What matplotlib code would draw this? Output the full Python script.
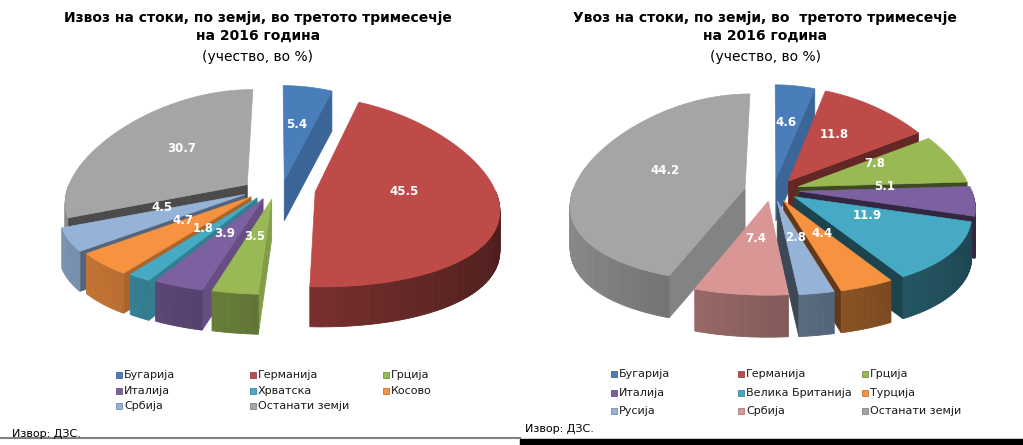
import numpy as np
import matplotlib
matplotlib.use('Agg')
import matplotlib.pyplot as plt
from matplotlib.patches import Polygon
from matplotlib.colors import to_rgb

# --- data -------------------------------------------------------------
export_labels = ['Бугарија', 'Германија', 'Грција', 'Италија', 'Хрватска',
                 'Косово', 'Србија', 'Останати земји']
export_values = [5.4, 45.5, 3.5, 3.9, 1.8, 4.7, 4.5, 30.7]
export_colors = ['#4A7EBB', '#BE4B48', '#98B954', '#7D60A0', '#46AAC5',
                 '#F69240', '#95B3D7', '#A5A5A5']

import_labels = ['Бугарија', 'Германија', 'Грција', 'Италија', 'Велика Британија',
                 'Турција', 'Русија', 'Србија', 'Останати земји']
import_values = [4.6, 11.8, 7.8, 5.1, 11.9, 4.4, 2.8, 7.4, 44.2]
import_colors = ['#4A7EBB', '#BE4B48', '#98B954', '#7D60A0', '#46AAC5',
                 '#F69240', '#95B3D7', '#D99694', '#A5A5A5']

title_export = 'Извоз на стоки, по земји, во третото тримесечје\nна 2016 година'
title_import = 'Увоз на стоки, по земји, во  третото тримесечје\nна 2016 година'
subtitle = '(учество, во %)'
source = 'Извор: ДЗС.'


def shade(col, f):
    r, g, b = to_rgb(col)
    return (r * f, g * f, b * f)


def pie3d(ax, values, colors, cx, cy, rx, ry, depth, ex=0.2, ey=0.1, persp=0.18, lab_r=0.5):
    """fake 3d exploded pie, slices clockwise from 12 o'clock"""
    vals = np.array(values, dtype=float)
    edges = np.concatenate([[0], np.cumsum(vals) / vals.sum() * 360])

    def proj(u, v, down=0.0):
        return (cx + rx * u * (1 - persp * v), cy - ry * v + down)

    faces = []   # (depth key, polygon pts, color)
    tops = []
    for i, col in enumerate(colors):
        a0, a1 = edges[i], edges[i + 1]
        mid = np.radians((a0 + a1) / 2)
        ou, ov = ex * np.sin(mid), ey * np.cos(mid)
        th = np.radians(np.linspace(a0, a1, max(int(a1 - a0), 2) + 1))
        us, vs = ou + np.sin(th), ov + np.cos(th)

        top = [proj(ou, ov)] + [proj(u, v) for u, v in zip(us, vs)]
        tops.append((top, col))

        # outer wall, front half only
        for k in range(len(th) - 1):
            tm = (th[k] + th[k + 1]) / 2
            if np.cos(tm) >= 0:
                continue
            f = 0.62 - 0.22 * np.sin(tm)
            quad = [proj(us[k], vs[k]), proj(us[k + 1], vs[k + 1]),
                    proj(us[k + 1], vs[k + 1], depth), proj(us[k], vs[k], depth)]
            faces.append((vs[k] / 2 + vs[k + 1] / 2, quad, shade(col, f)))

        # radial cut faces
        for ang, sgn in ((a0, -1), (a1, 1)):
            t = np.radians(ang)
            if sgn * np.sin(t) <= 0:
                continue
            nx = sgn * np.cos(t)
            f = 0.4 + 0.45 * max(nx, 0) ** 2
            eu, ev = ou + np.sin(t), ov + np.cos(t)
            quad = [proj(ou, ov), proj(eu, ev), proj(eu, ev, depth), proj(ou, ov, depth)]
            faces.append((ov + 0.5 * np.cos(t), quad, shade(col, f)))

        lu, lv = ou + lab_r * np.sin(mid), ov + lab_r * np.cos(mid) + 0.1
        ax.text(*proj(lu, lv), f'{values[i]:.1f}', color='white', fontsize=8.5,
                fontweight='bold', ha='center', va='center', zorder=10)

    for _, pts, c in sorted(faces, key=lambda f: -f[0]):
        ax.add_patch(Polygon(pts, closed=True, facecolor=c, edgecolor=c, lw=0.6, zorder=2))
    for pts, c in tops:
        ax.add_patch(Polygon(pts, closed=True, facecolor=c, edgecolor=c, lw=0.5, zorder=3))


def legend_block(ax, labels, colors, col_x, row_y):
    for i, (lab, col) in enumerate(zip(labels, colors)):
        x, y = col_x[i % 3], row_y[i // 3]
        ax.scatter(x + 3.5, y, marker='s', s=22, color=col, edgecolors=shade(col, 0.7),
                   linewidths=0.5, zorder=5)
        ax.text(x + 9, y, lab, fontsize=8, va='center', ha='left', color='#1a1a1a')


fig = plt.figure(figsize=(10.23, 4.45), dpi=100)
ax = fig.add_axes([0, 0, 1, 1])
ax.set_xlim(0, 1023)
ax.set_ylim(445, 0)
ax.axis('off')

for xc, ttl in ((258, title_export), (765, title_import)):
    ax.text(xc, 27, ttl, ha='center', va='center', fontsize=10, fontweight='bold',
            linespacing=1.3)
    ax.text(xc, 57, subtitle, ha='center', va='center', fontsize=10)

pie3d(ax, export_values, export_colors, 278, 190, 180, 95, 40, ex=0.21, ey=0.1)
pie3d(ax, import_values, import_colors, 772, 190, 172, 94, 42, ex=0.16, ey=0.12)

legend_block(ax, export_labels, export_colors, [115, 249, 382], [375, 391, 406])
legend_block(ax, import_labels, import_colors, [610, 737, 861], [374, 393, 411])

ax.text(12, 434, source, fontsize=8, va='center')
ax.text(525, 429, source, fontsize=8, va='center')

ax.plot([0, 520], [438, 438], color='#808080', lw=1.5)
ax.add_patch(plt.Rectangle((520, 439), 503, 6, color='black', zorder=6))

fig.savefig('out.png', dpi=100)
